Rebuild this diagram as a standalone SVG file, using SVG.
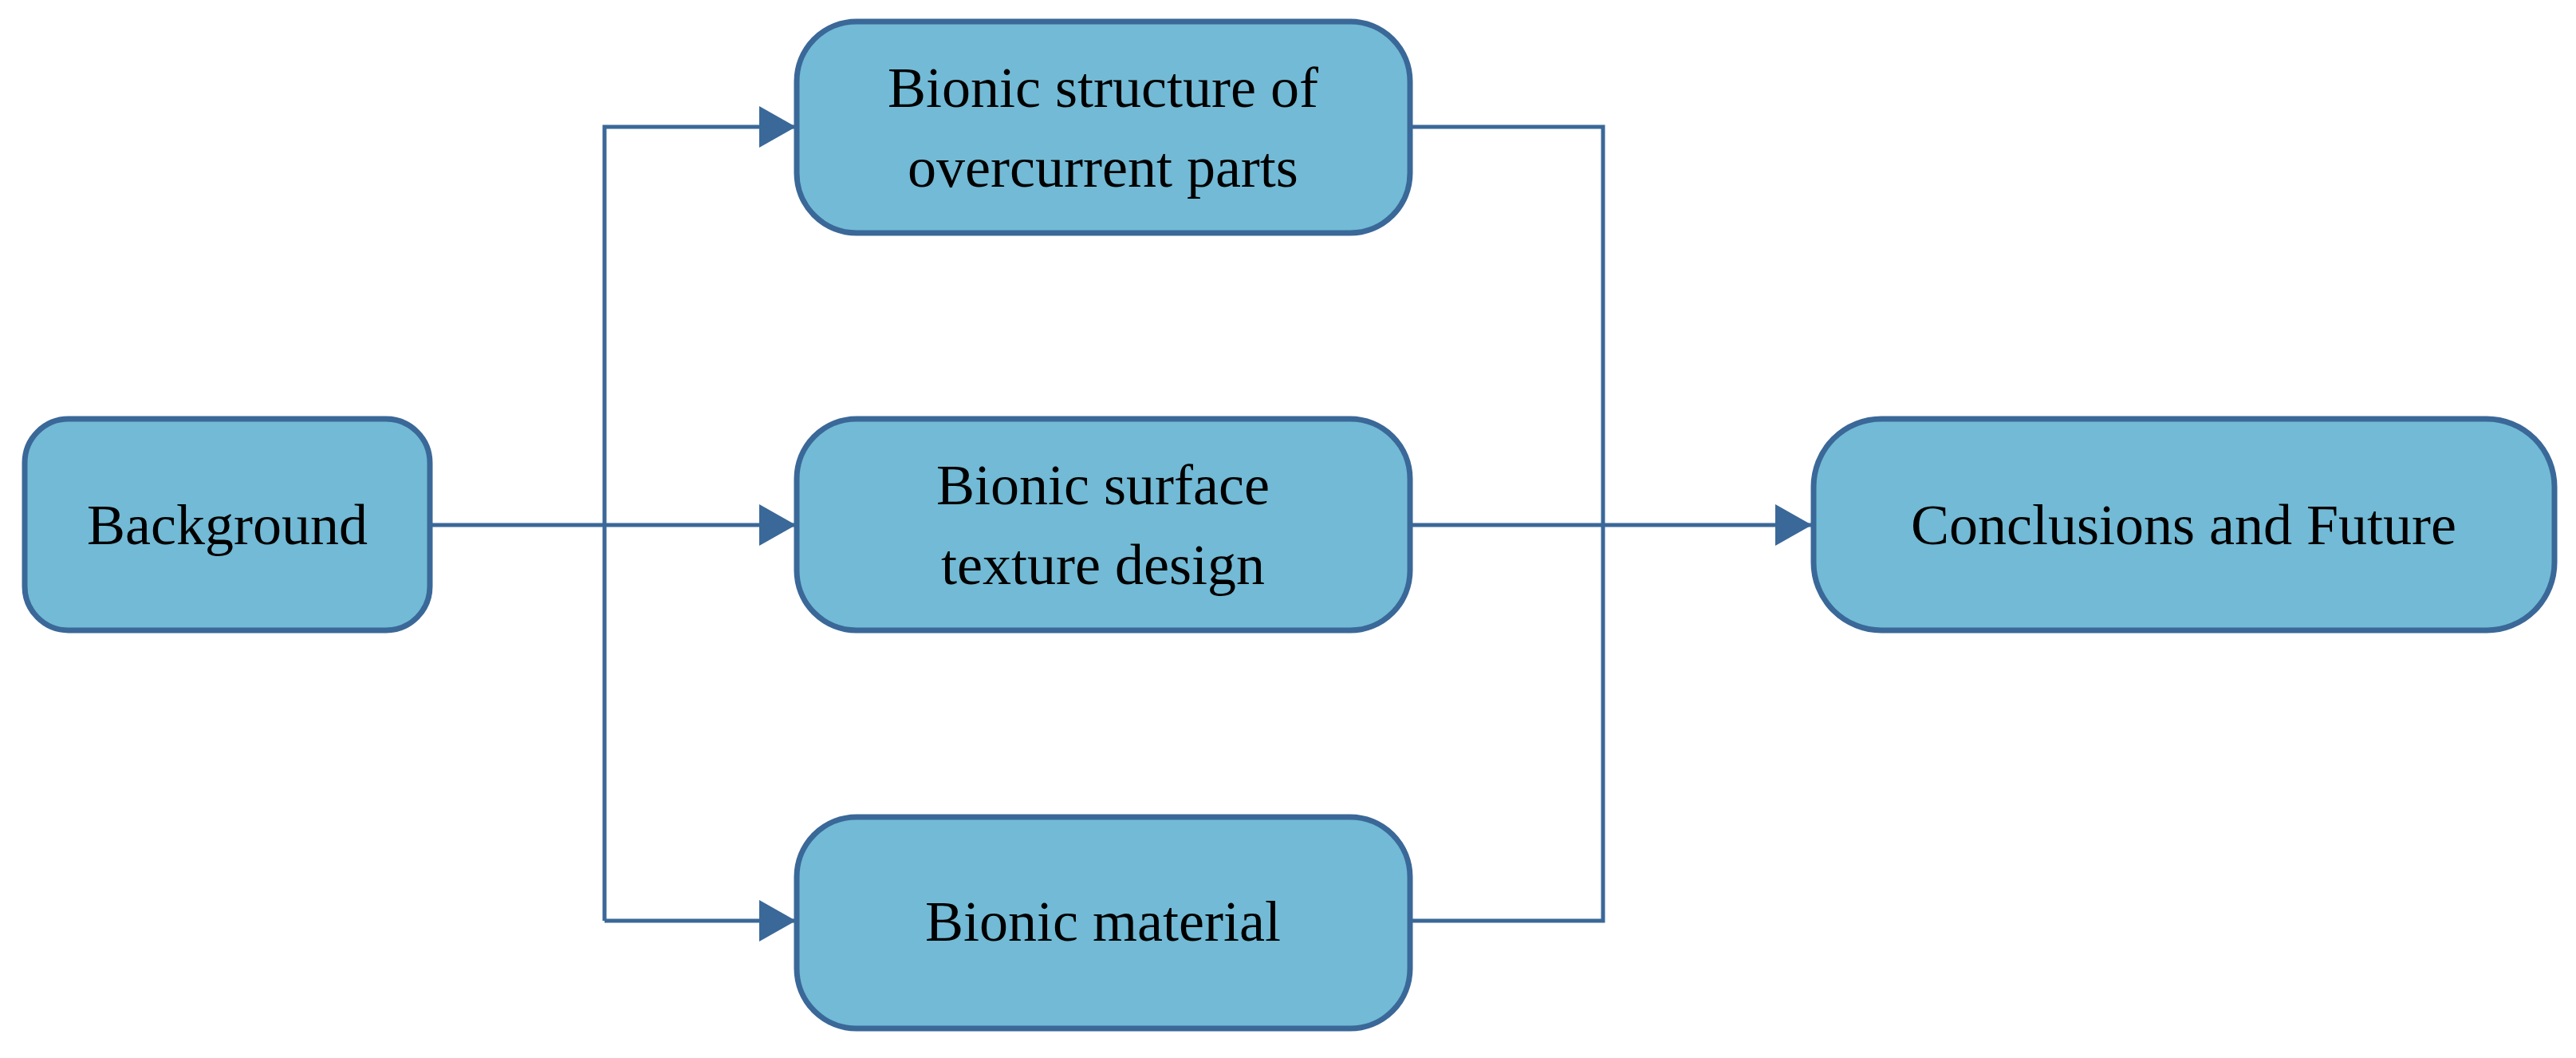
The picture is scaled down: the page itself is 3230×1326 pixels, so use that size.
<svg xmlns="http://www.w3.org/2000/svg" width="3230" height="1326" viewBox="0 0 3230 1326">
<defs>
<style>
.n{fill:#72BAD5;stroke:#3A6898;stroke-width:7}
.t{font-family:"Liberation Serif",serif;font-size:72px;fill:#000;text-anchor:middle}
.c{fill:none;stroke:#3A6898;stroke-width:5}
</style>
<marker id="a" markerUnits="userSpaceOnUse" markerWidth="48" markerHeight="52" refX="46" refY="26" orient="auto"><path d="M0,0L46,26L0,52Z" fill="#3A6898"/></marker>
</defs>
<rect width="3230" height="1326" fill="#fff"/>
<g id="connectors">
<path class="c" d="M540,658H998" marker-end="url(#a)"/>
<path class="c" d="M758,1154V159H998" marker-end="url(#a)"/>
<path class="c" d="M758,1154H998" marker-end="url(#a)"/>
<path class="c" d="M1768,159H2010V1154H1768"/>
<path class="c" d="M1768,658H2272" marker-end="url(#a)"/>
</g>
<g id="background"><rect class="n" x="31" y="525" width="508" height="265" rx="55"/><text class="t" x="285" y="682">Background</text></g>
<g id="structure"><rect class="n" x="999" y="27" width="769" height="265" rx="75"/><text class="t" x="1383" y="134">Bionic structure of</text><text class="t" x="1383" y="234">overcurrent parts</text></g>
<g id="texture"><rect class="n" x="999" y="525" width="769" height="265" rx="75"/><text class="t" x="1383" y="632">Bionic surface</text><text class="t" x="1383" y="732">texture design</text></g>
<g id="material"><rect class="n" x="999" y="1024" width="769" height="265" rx="75"/><text class="t" x="1383" y="1179">Bionic material</text></g>
<g id="conclusions"><rect class="n" x="2274" y="525" width="929" height="265" rx="85"/><text class="t" x="2738" y="682">Conclusions and Future</text></g>
</svg>
